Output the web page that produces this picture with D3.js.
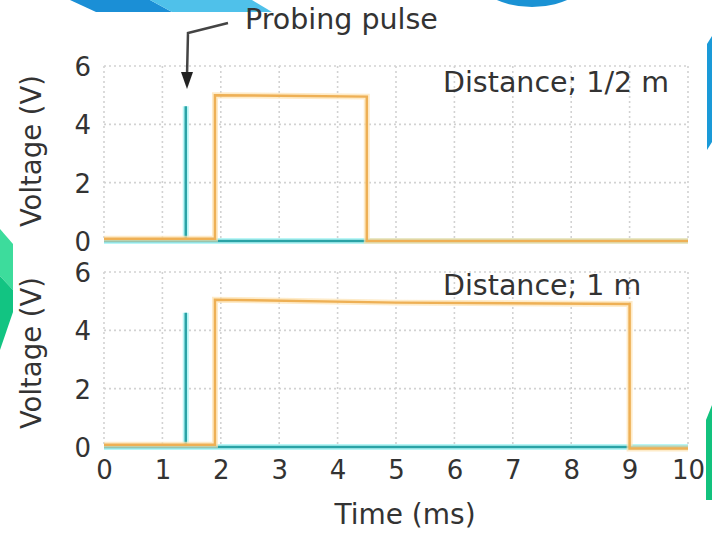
<!DOCTYPE html>
<html>
<head>
<meta charset="utf-8">
<script src="https://cdn.jsdelivr.net/npm/d3@7"></script>
<style>
  html, body { margin: 0; padding: 0; background: #ffffff; }
  svg { display: block; }
  text { font-family: "DejaVu Sans", sans-serif; fill: #333333; }
</style>
</head>
<body>
<svg id="chart" width="712" height="533"></svg>
<script>
// ---------- data ----------
const xTicks = [0, 1, 2, 3, 4, 5, 6, 7, 8, 9, 10];
const yTicks = [0, 2, 4, 6];

// Panel 1: Distance 1/2 m
const top_probeTime   = [0, 1.4, 1.4, 1.4, 10];
const top_probeVolt   = [0, 0, 4.62, 0, 0];
const top_echoTime    = [0, 1.9, 1.9, 3.0, 4.5, 4.5, 10];
const top_echoVolt    = [0.08, 0.08, 5.0, 4.98, 4.95, 0.0, 0.0];

// Panel 2: Distance 1 m
const bot_probeTime   = [0, 1.4, 1.4, 1.4, 10];
const bot_probeVolt   = [0, 0, 4.6, 0, 0];
const bot_echoTime    = [0, 1.9, 1.9, 5.0, 9.0, 9.0, 10];
const bot_echoVolt    = [0.08, 0.08, 5.05, 4.95, 4.9, -0.05, -0.05];

const panelTitles = ["Distance; 1/2 m", "Distance; 1 m"];
const yLabel = "Voltage (V)";
const xLabel = "Time (ms)";
const annotation = "Probing pulse";

// ---------- drawing ----------
const svg = d3.select("#chart");

// background decorations (page artwork behind the figure)
const deco = svg.append("g");
deco.append("path").attr("d", "M70,0 L150,0 L172,12 L96,12 Z").attr("fill", "#1b8fd6");
deco.append("path").attr("d", "M150,0 L252,0 L272,12 L172,12 Z").attr("fill", "#4fc1ea");
deco.append("ellipse").attr("cx", 532).attr("cy", -30).attr("rx", 60).attr("ry", 37).attr("fill", "#1a92d4");
deco.append("path").attr("d", "M712,36 L707,44 L707,150 L712,142 Z").attr("fill", "#1a9ad8");
deco.append("path").attr("d", "M712,405 L706,420 L706,500 L712,500 Z").attr("fill", "#12c27e");
deco.append("path").attr("d", "M0,229 L13,244 L13,290 L0,276 Z").attr("fill", "#3ddc9c");
deco.append("path").attr("d", "M0,276 L13,290 L13,312 L0,350 Z").attr("fill", "#12c482");

const x = d3.scaleLinear().domain([0, 10]).range([104, 688]);
const panels = [
  { y: d3.scaleLinear().domain([0, 6]).range([241, 66]),
    probe: [top_probeTime, top_probeVolt], echo: [top_echoTime, top_echoVolt],
    title: panelTitles[0], titleY: 92, labelY: 151 },
  { y: d3.scaleLinear().domain([0, 6]).range([447, 272]),
    probe: [bot_probeTime, bot_probeVolt], echo: [bot_echoTime, bot_echoVolt],
    title: panelTitles[1], titleY: 295, labelY: 353 }
];

panels.forEach((p, i) => {
  const g = svg.append("g");
  // dotted grid (also acts as frame)
  g.selectAll("line.vg").data(xTicks).join("line")
    .attr("x1", d => x(d)).attr("x2", d => x(d))
    .attr("y1", p.y(6)).attr("y2", p.y(0))
    .attr("stroke", "#d2d2d2").attr("stroke-width", 1.6).attr("stroke-dasharray", "2,3");
  g.selectAll("line.hg").data(yTicks).join("line")
    .attr("x1", x(0)).attr("x2", x(10))
    .attr("y1", d => p.y(d)).attr("y2", d => p.y(d))
    .attr("stroke", "#d2d2d2").attr("stroke-width", 1.6).attr("stroke-dasharray", "2,3");

  // y axis tick labels
  const yAxis = d3.axisLeft(p.y).tickValues(yTicks).tickSize(0).tickPadding(0).tickFormat(d3.format("d"));
  const ya = g.append("g").attr("transform", "translate(91,0)").call(yAxis);
  ya.select(".domain").remove();
  ya.selectAll("text").attr("font-size", 26).attr("fill", "#333").attr("font-family", "DejaVu Sans, sans-serif").attr("dy", "0.36em");

  const line = d3.line().x(d => x(d[0])).y(d => p.y(d[1]));
  const probe = p.probe[0].map((t, k) => [t, p.probe[1][k]]);
  const echo = p.echo[0].map((t, k) => [t, p.echo[1][k]]);

  // probe (teal) with cyan halo
  g.append("path").datum(probe).attr("d", line).attr("fill", "none")
    .attr("stroke", "#a8f4f4").attr("stroke-width", 6).attr("stroke-opacity", 0.8);
  g.append("path").datum(probe).attr("d", line).attr("fill", "none")
    .attr("stroke", "#2aa3a6").attr("stroke-width", 2.5);
  // echo (orange) with light halo
  g.append("path").datum(echo).attr("d", line).attr("fill", "none")
    .attr("stroke", "#fde3b0").attr("stroke-width", 6).attr("stroke-opacity", 0.7);
  g.append("path").datum(echo).attr("d", line).attr("fill", "none")
    .attr("stroke", "#eeb055").attr("stroke-width", 2.5);

  // panel title
  g.append("text").attr("x", 443).attr("y", p.titleY).attr("font-size", 28.5).text(p.title);

  // y label
  g.append("text").attr("transform", `translate(41,${p.labelY}) rotate(-90)`)
    .attr("text-anchor", "middle").attr("font-size", 27.5).text(yLabel);
});

// x axis tick labels (bottom panel)
const xAxis = d3.axisBottom(x).tickValues(xTicks).tickSize(0).tickPadding(0).tickFormat(d3.format("d"));
const xa = svg.append("g").attr("transform", "translate(0,459)").call(xAxis);
xa.select(".domain").remove();
xa.selectAll("text").attr("font-size", 26).attr("fill", "#333").attr("font-family", "DejaVu Sans, sans-serif").attr("dy", "0.78em");

svg.append("text").attr("x", 405).attr("y", 524).attr("text-anchor", "middle")
  .attr("font-size", 28).text(xLabel);

// annotation
svg.append("text").attr("x", 245).attr("y", 29).attr("font-size", 28.5).text(annotation);
svg.append("path").attr("d", `M228,23 L188,33 L187,76`).attr("fill", "none")
  .attr("stroke", "#444").attr("stroke-width", 2.5);
svg.append("path").attr("d", "M181,72 L193,72 L187,89 Z").attr("fill", "#222");
</script>
</body>
</html>
